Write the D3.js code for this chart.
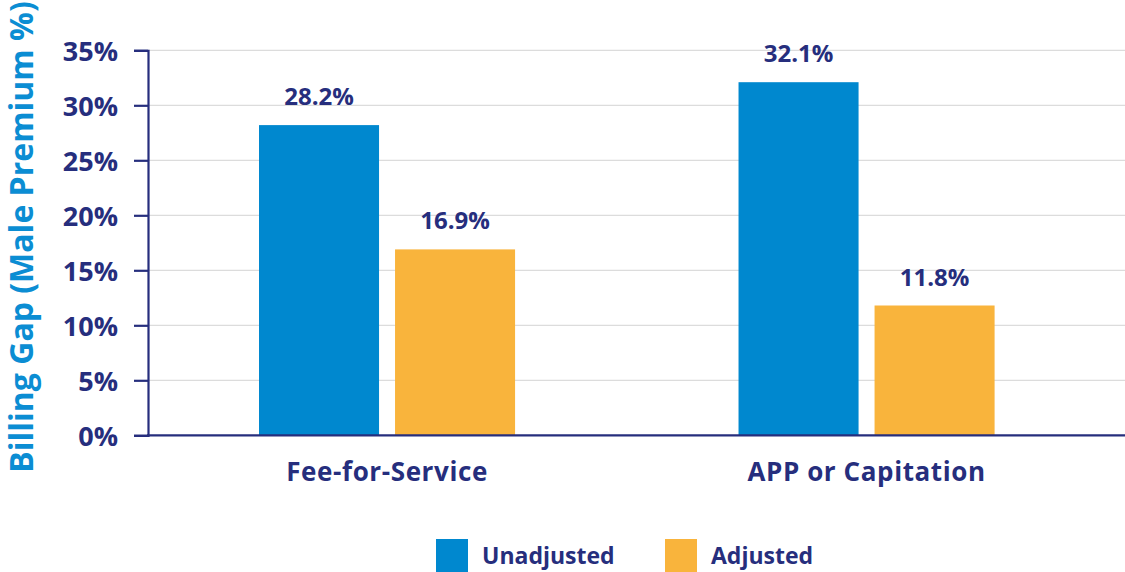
<!DOCTYPE html>
<html>
<head>
<meta charset="utf-8">
<script src="https://cdn.jsdelivr.net/npm/d3@7"></script>
<style>
  body { margin: 0; background: #fff; }
  svg { display: block; font-family: "Open Sans", Lato, sans-serif; font-weight: 700; }
</style>
</head>
<body>
<svg width="1125" height="572"></svg>
<script>
const categories = ['Fee-for-Service', 'APP or Capitation'];
const series = ['Unadjusted', 'Adjusted'];
const unadjusted = [28.2, 32.1];
const adjusted = [16.9, 11.8];
const yTicks = [0, 5, 10, 15, 20, 25, 30, 35];

const navy = '#262e7d';
const colors = ['#0088cf', '#f9b43c'];

const svg = d3.select('svg');
const plotLeft = 148, plotRight = 1125, plotTop = 50.3, plotBottom = 435.3;

const y = d3.scaleLinear().domain([0, 35]).range([plotBottom, plotTop]);

const x0 = d3.scaleBand()
    .domain(categories)
    .range([plotLeft, 1105.6])
    .paddingInner(0.466)
    .paddingOuter(0.2315);

const x1 = d3.scaleBand()
    .domain(series)
    .range([0, x0.bandwidth()])
    .paddingInner(0.1176);

const color = d3.scaleOrdinal().domain(series).range(colors);

// gridlines
svg.append('g')
    .selectAll('line')
    .data(yTicks.filter(d => d > 0))
    .enter().append('line')
    .attr('x1', plotLeft).attr('x2', plotRight)
    .attr('y1', d => y(d)).attr('y2', d => y(d))
    .attr('stroke', '#dcdcdc')
    .attr('stroke-width', 1.3);

// y axis
const yAxis = svg.append('g')
    .attr('transform', `translate(${plotLeft},0)`)
    .call(d3.axisLeft(y).tickValues(yTicks).tickSize(14).tickPadding(16).tickFormat(d => d + '%'));
yAxis.select('.domain').attr('stroke', navy).attr('stroke-width', 2.2);
yAxis.selectAll('.tick line').attr('stroke', navy).attr('stroke-width', 2.2);
yAxis.selectAll('.tick text')
    .attr('fill', navy)
    .attr('font-size', '27px')
    .attr('font-family', '"Open Sans", sans-serif')
    .attr('font-weight', 700)
    .attr('dy', '0.36em');

// bars
const rows = categories.map((c, i) => ({ category: c, values: [unadjusted[i], adjusted[i]] }));

const groups = svg.selectAll('.grp')
    .data(rows)
    .enter().append('g')
    .attr('class', 'grp')
    .attr('transform', d => `translate(${x0(d.category)},0)`);

const bars = groups.selectAll('g')
    .data(d => d.values.map((v, j) => ({ key: series[j], value: v })))
    .enter().append('g');

bars.append('rect')
    .attr('x', d => x1(d.key))
    .attr('width', x1.bandwidth())
    .attr('y', d => y(d.value))
    .attr('height', d => plotBottom - y(d.value))
    .attr('fill', d => color(d.key));

bars.append('text')
    .attr('x', d => x1(d.key) + x1.bandwidth() / 2)
    .attr('y', d => y(d.value) - 20)
    .attr('text-anchor', 'middle')
    .attr('fill', navy)
    .attr('font-size', '24px')
    .text(d => d.value.toFixed(1) + '%');

// x axis line
svg.append('line')
    .attr('x1', plotLeft - 1).attr('x2', plotRight)
    .attr('y1', plotBottom).attr('y2', plotBottom)
    .attr('stroke', navy)
    .attr('stroke-width', 2.2);

// category labels
svg.append('g')
    .selectAll('text')
    .data(categories)
    .enter().append('text')
    .attr('x', d => x0(d) + x0.bandwidth() / 2)
    .attr('y', 481)
    .attr('text-anchor', 'middle')
    .attr('fill', navy)
    .attr('font-size', '26px')
    .attr('letter-spacing', '0.6px')
    .text(d => d);

// y title
svg.append('text')
    .attr('transform', `translate(33,237) rotate(-90)`)
    .attr('text-anchor', 'middle')
    .attr('fill', '#0b8dd3')
    .attr('font-size', '32px')
    .text('Billing Gap (Male Premium %)');

// legend
const legendX = [436, 665];
const legend = svg.selectAll('.legend')
    .data(series)
    .enter().append('g')
    .attr('class', 'legend')
    .attr('transform', (d, i) => `translate(${legendX[i]},539)`);

legend.append('rect')
    .attr('width', 32)
    .attr('height', 33)
    .attr('fill', d => color(d));

legend.append('text')
    .attr('x', 46)
    .attr('y', 25)
    .attr('fill', navy)
    .attr('font-size', '23px')
    .text(d => d);
</script>
</body>
</html>
